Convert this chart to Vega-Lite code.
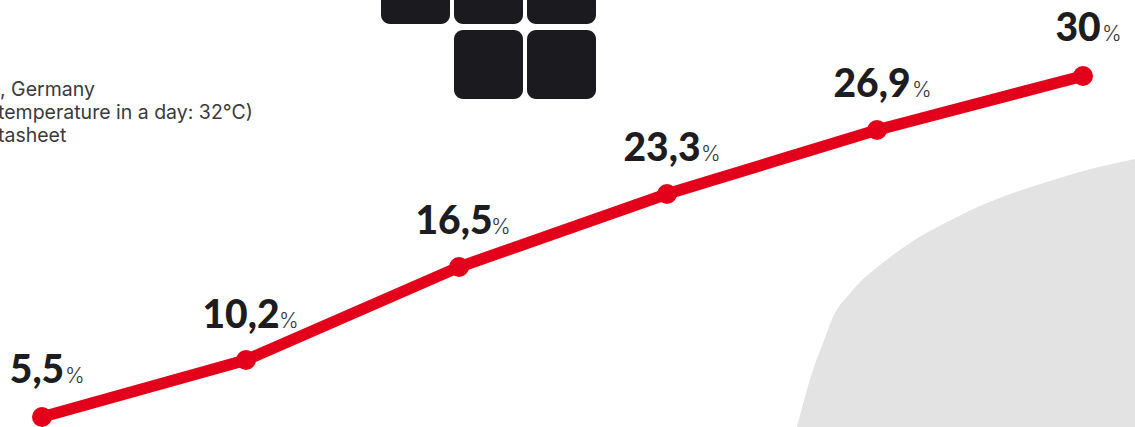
{
  "$schema": "https://vega.github.io/schema/vega-lite/v6.json",
  "width": 1135,
  "height": 427,
  "autosize": {"type": "none"},
  "padding": 0,
  "background": "#ffffff",
  "config": {"view": {"stroke": null}},
  "datasets": {
    "share": [
      {"step": 0, "value": 5.5, "label": "5,5"},
      {"step": 1, "value": 10.2, "label": "10,2"},
      {"step": 2, "value": 16.5, "label": "16,5"},
      {"step": 3, "value": 23.3, "label": "23,3"},
      {"step": 4, "value": 26.9, "label": "26,9"},
      {"step": 5, "value": 30, "label": "30"}
    ]
  },
  "layer": [
    {
      "data": {"values": [
        {"u": 79.7, "h": 0}, {"u": 81.3, "h": 5.7}, {"u": 82.3, "h": 8.4}, {"u": 83.5, "h": 11.4}, {"u": 84, "h": 12.2}, {"u": 84.7, "h": 13},
        {"u": 86, "h": 14.5}, {"u": 88, "h": 16.2}, {"u": 91.3, "h": 18.6}, {"u": 94.7, "h": 20.5}, {"u": 98, "h": 22.1},
        {"u": 101.3, "h": 23.4}, {"u": 104.7, "h": 24.5}, {"u": 108, "h": 25.5}, {"u": 113.5, "h": 26.8}
      ]},
      "mark": {"type": "area", "color": "#e3e3e3", "interpolate": "monotone"},
      "encoding": {
        "x": {"field": "u", "type": "quantitative", "axis": null, "scale": {"domain": [0, 113.5], "nice": false, "zero": false}},
        "y": {"field": "h", "type": "quantitative", "axis": null, "scale": {"domain": [0, 42.7], "nice": false, "zero": false}}
      }
    },
    {
      "data": {"values": [
        {"col": 0, "row": 0}, {"col": 1, "row": 0}, {"col": 2, "row": 0},
        {"col": 1, "row": 1}, {"col": 2, "row": 1}
      ]},
      "mark": {"type": "rect", "color": "#1b1a1f", "cornerRadius": 9},
      "encoding": {
        "x": {"field": "col", "type": "ordinal", "axis": null, "scale": {"range": [381, 596], "paddingInner": 0.0548, "paddingOuter": 0}},
        "y": {"field": "row", "type": "ordinal", "axis": null, "scale": {"range": [-45, 99], "paddingInner": 0.08, "paddingOuter": 0}}
      }
    },
    {
      "data": {"values": [
        {"line": 1, "note": ", Germany", "lead": 0},
        {"line": 2, "note": "temperature in a day: 32°C)", "lead": -2},
        {"line": 3, "note": "tasheet", "lead": -2}
      ]},
      "mark": {"type": "text", "align": "left", "baseline": "alphabetic", "font": "Inter", "fontSize": 19.5, "fontWeight": 400, "color": "#3a3a3c"},
      "encoding": {
        "x": {"field": "lead", "type": "quantitative", "axis": null, "scale": {"domain": [0, 1135], "nice": false, "zero": false}},
        "y": {"field": "line", "type": "quantitative", "axis": null, "scale": {"domain": [1, 3], "range": [95.5, 142], "nice": false, "zero": false}},
        "text": {"field": "note"}
      }
    },
    {
      "data": {"name": "share"},
      "mark": {"type": "line", "color": "#e2001a", "strokeWidth": 11.5},
      "encoding": {
        "x": {"field": "step", "type": "quantitative", "axis": null, "scale": {"domain": [0, 1, 2, 3, 4, 5], "range": [42, 246, 459, 667, 877, 1083], "nice": false, "zero": false}},
        "y": {"field": "value", "type": "quantitative", "axis": null, "scale": {"domain": [5.5, 10.2, 16.5, 23.3, 26.9, 30], "range": [417, 360, 267, 194, 130, 76], "nice": false, "zero": false}}
      }
    },
    {
      "data": {"name": "share"},
      "mark": {"type": "point", "filled": true, "opacity": 1, "color": "#e2001a", "size": 400},
      "encoding": {
        "x": {"field": "step", "type": "quantitative", "axis": null, "scale": {"domain": [0, 1, 2, 3, 4, 5], "range": [42, 246, 459, 667, 877, 1083], "nice": false, "zero": false}},
        "y": {"field": "value", "type": "quantitative", "axis": null, "scale": {"domain": [5.5, 10.2, 16.5, 23.3, 26.9, 30], "range": [417, 360, 267, 194, 130, 76], "nice": false, "zero": false}}
      }
    },
    {
      "data": {"name": "share"},
      "mark": {"type": "text", "align": "center", "baseline": "alphabetic", "font": "Lato", "fontSize": 39, "fontWeight": 900, "color": "#1d1c21", "dx": -5,
        "dy": {"expr": "[-34, -32, -33, -33, -33, -35][datum.step]"}},
      "encoding": {
        "x": {"field": "step", "type": "quantitative", "axis": null, "scale": {"domain": [0, 1, 2, 3, 4, 5], "range": [42, 246, 459, 667, 877, 1083], "nice": false, "zero": false}},
        "y": {"field": "value", "type": "quantitative", "axis": null, "scale": {"domain": [5.5, 10.2, 16.5, 23.3, 26.9, 30], "range": [417, 360, 267, 194, 130, 76], "nice": false, "zero": false}},
        "text": {"field": "label"}
      }
    },
    {
      "data": {"name": "share"},
      "mark": {"type": "text", "align": "left", "baseline": "alphabetic", "font": "Inter", "fontSize": 21, "fontWeight": 300, "color": "#3a3a3c",
        "dy": {"expr": "[-34, -32, -33, -33, -33, -35][datum.step]"},
        "dx": {"expr": "[23, 33, 32, 34, 35, 19][datum.step]"}},
      "encoding": {
        "x": {"field": "step", "type": "quantitative", "axis": null, "scale": {"domain": [0, 1, 2, 3, 4, 5], "range": [42, 246, 459, 667, 877, 1083], "nice": false, "zero": false}},
        "y": {"field": "value", "type": "quantitative", "axis": null, "scale": {"domain": [5.5, 10.2, 16.5, 23.3, 26.9, 30], "range": [417, 360, 267, 194, 130, 76], "nice": false, "zero": false}},
        "text": {"value": "%"}
      }
    }
  ],
  "resolve": {"scale": {"x": "independent", "y": "independent"}}
}
